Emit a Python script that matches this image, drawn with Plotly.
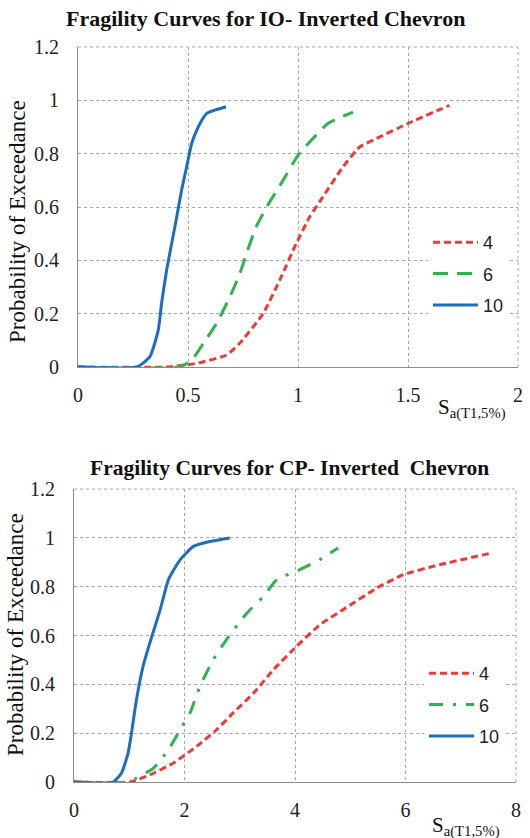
import plotly.graph_objects as go

# ---------------- Data: IO (top) ----------------
io_x_4 = [0, 0.40, 0.54, 0.675, 0.735, 0.841, 0.917, 0.992, 1.053, 1.113, 1.204, 1.28, 1.355, 1.499, 1.688]
io_y_4 = [0, 0.0, 0.014, 0.045, 0.089, 0.20, 0.326, 0.463, 0.563, 0.638, 0.75, 0.825, 0.856, 0.913, 0.981]
io_x_6 = [0, 0.46, 0.517, 0.570, 0.630, 0.691, 0.736, 0.766, 0.81, 0.863, 0.932, 1.0, 1.06, 1.136, 1.25]
io_y_6 = [0, 0.0, 0.026, 0.089, 0.164, 0.264, 0.351, 0.426, 0.526, 0.607, 0.70, 0.794, 0.85, 0.913, 0.956]
io_x_10 = [0, 0.267, 0.327, 0.365, 0.380, 0.403, 0.426, 0.449, 0.471, 0.494, 0.517, 0.547, 0.585, 0.673]
io_y_10 = [0, 0.0, 0.039, 0.139, 0.239, 0.364, 0.464, 0.564, 0.664, 0.751, 0.839, 0.901, 0.951, 0.976]

# ---------------- Data: CP (bottom) ----------------
cp_x_4 = [0, 1.01, 1.38, 1.80, 2.22, 2.58, 2.88, 3.25, 3.61, 4.03, 4.45, 4.87, 5.48, 5.96, 6.62, 7.56]
cp_y_4 = [0, 0.0, 0.03, 0.078, 0.146, 0.214, 0.283, 0.364, 0.46, 0.556, 0.644, 0.706, 0.794, 0.849, 0.89, 0.938]
cp_x_6 = [0, 0.95, 1.13, 1.44, 1.71, 1.92, 2.10, 2.28, 2.52, 2.76, 3.13, 3.43, 3.67, 4.09, 4.45, 4.78]
cp_y_6 = [0, 0.0, 0.016, 0.057, 0.132, 0.214, 0.283, 0.392, 0.501, 0.583, 0.692, 0.76, 0.829, 0.87, 0.911, 0.958]
cp_x_10 = [0, 0.71, 0.86, 0.98, 1.04, 1.13, 1.25, 1.41, 1.56, 1.71, 1.92, 2.16, 2.40, 2.82]
cp_y_10 = [0, 0.0, 0.037, 0.119, 0.20, 0.337, 0.474, 0.597, 0.706, 0.829, 0.91, 0.965, 0.982, 0.999]

series_names = ["4", "6", "10"]
titles = ["Fragility Curves for IO- Inverted Chevron", "Fragility Curves for CP- Inverted  Chevron"]
y_title = "Probability of Exceedance"
x_title = "S<sub>a(T1,5%)</sub>"
io_xticks = [0, 0.5, 1, 1.5, 2]
cp_xticks = [0, 2, 4, 6, 8]
yticks = [0, 0.2, 0.4, 0.6, 0.8, 1, 1.2]

RED = "#F03A3A"
GREEN = "#2EB34E"
BLUE = "#1C6FBE"
W, H = 530, 838
SERIF = "Liberation Serif, Times New Roman, DejaVu Serif, serif"

fig = go.Figure()

def add(x, y, name, color, dash, xa, ya, legend):
    fig.add_trace(go.Scatter(
        x=x, y=y, name=name, mode="lines", xaxis=xa, yaxis=ya, legend=legend,
        legendgroup=legend + name,
        line=dict(color=color, width=3, dash=dash, shape="spline", smoothing=0.5),
    ))

add(io_x_4, io_y_4, series_names[0], RED, "7px,4px", "x", "y", "legend")
add(io_x_6, io_y_6, series_names[1], GREEN, "15px,9px", "x", "y", "legend")
add(io_x_10, io_y_10, series_names[2], BLUE, "solid", "x", "y", "legend")
add(cp_x_4, cp_y_4, series_names[0], RED, "7px,4px", "x2", "y2", "legend2")
add(cp_x_6, cp_y_6, series_names[1], GREEN, "14px,10px,3px,10px", "x2", "y2", "legend2")
add(cp_x_10, cp_y_10, series_names[2], BLUE, "solid", "x2", "y2", "legend2")

def px_x(p):
    return p / W

def px_y(p):
    return 1 - p / H

def axis(**kw):
    d = dict(showgrid=True, gridcolor="#AAAAAA", griddash="dot", gridwidth=1, zeroline=False,
             showline=True, linecolor="#8C8C8C", linewidth=1, ticks="", automargin=False,
             tickfont=dict(family=SERIF, size=20, color="#222"))
    d.update(kw)
    return d

fig.update_layout(
    width=W, height=H, margin=dict(l=0, r=0, t=0, b=0, autoexpand=False),
    paper_bgcolor="white", plot_bgcolor="white",
    xaxis=axis(domain=[px_x(78), px_x(518)], range=[0, 2], tickvals=io_xticks, anchor="y",
               ticklabelstandoff=10),
    yaxis=axis(domain=[px_y(367), px_y(47)], range=[0, 1.2], tickvals=yticks, anchor="x",
               ticklabelstandoff=14),
    xaxis2=axis(domain=[px_x(74), px_x(516)], range=[0, 8], tickvals=cp_xticks, anchor="y2",
                ticklabelstandoff=10),
    yaxis2=axis(domain=[px_y(782), px_y(489)], range=[0, 1.2], tickvals=yticks, anchor="x2",
                ticklabelstandoff=14),
    showlegend=True,
)

legend_common = dict(bgcolor="white", font=dict(family="Liberation Sans", size=18, color="#222"),
                     xanchor="left", yanchor="top", tracegroupgap=5, traceorder="grouped",
                     itemwidth=45)
fig.update_layout(
    legend=dict(legend_common, x=px_x(428), y=px_y(224)),
    legend2=dict(legend_common, x=px_x(424), y=px_y(655)),
)

# dotted frame on top / right edges (like gridlines)
for xr, yr in (("x", "y"), ("x2", "y2")):
    fig.add_shape(type="line", xref=xr + " domain", yref=yr + " domain", x0=0, x1=1, y0=1, y1=1,
                  line=dict(color="#AAAAAA", width=1, dash="dot"), layer="below")
    fig.add_shape(type="line", xref=xr + " domain", yref=yr + " domain", x0=1, x1=1, y0=0, y1=1,
                  line=dict(color="#AAAAAA", width=1, dash="dot"), layer="below")

def note(text, x, y, size, angle=0, bold=False):
    return dict(text=("<b>%s</b>" % text) if bold else text, x=px_x(x), y=px_y(y),
                xref="paper", yref="paper", xanchor="center", yanchor="middle",
                textangle=angle, showarrow=False,
                font=dict(family=SERIF, size=size, color="#111"))

ann = [
    note(titles[0], 265, 18, 22, bold=True),
    note(titles[1], 289, 468, 21.5, bold=True),
    note(y_title, 17, 222, 23, angle=-90),
    note(y_title, 15, 635, 23, angle=-90),
    note(x_title, 472, 408, 21),
    note(x_title, 466, 826, 21),
]
fig.update_layout(annotations=ann)

fig.write_html("out.html")
